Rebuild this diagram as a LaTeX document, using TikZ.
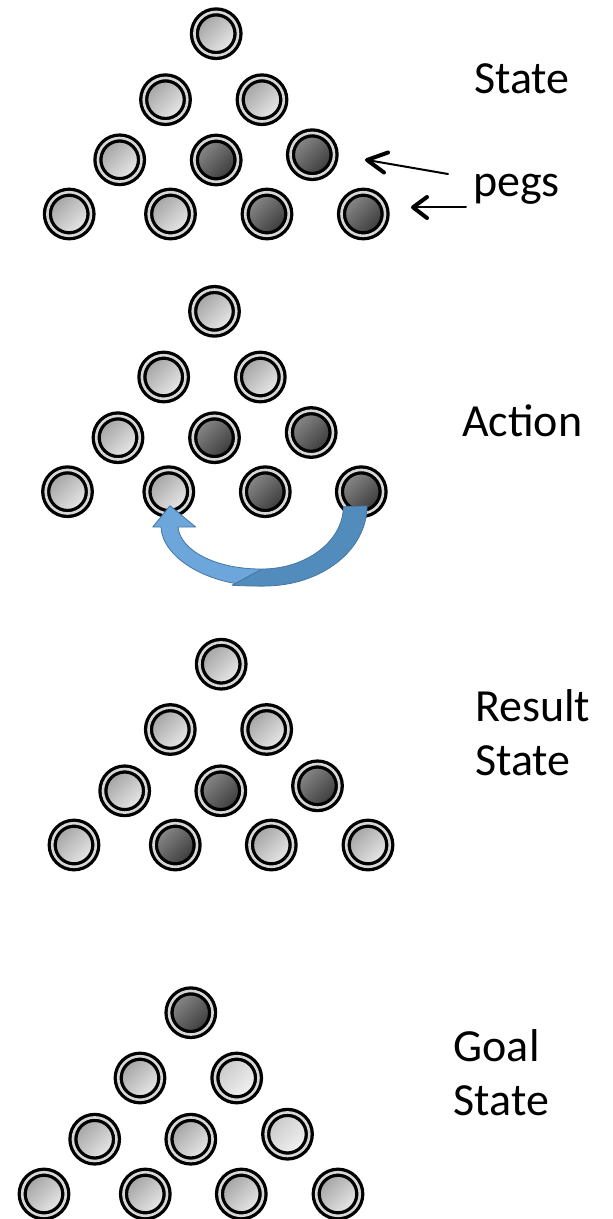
\documentclass[tikz,border=0pt]{standalone}
\usepackage{fontspec}
\setmainfont{Carlito}
\definecolor{ringgray}{RGB}{215,215,215}
\definecolor{lighttop}{RGB}{160,160,160}
\definecolor{lightbot}{RGB}{236,236,236}
\definecolor{darktop}{RGB}{140,140,140}
\definecolor{darkbot}{RGB}{55,55,55}
\definecolor{paletop}{RGB}{200,200,200}
\definecolor{palebot}{RGB}{244,244,244}
\definecolor{jumpfront}{RGB}{108,166,218}
\definecolor{jumpback}{RGB}{82,140,188}
\definecolor{jumpedge}{RGB}{70,118,162}
\begin{document}
\begin{tikzpicture}[x=1pt,y=-1pt,
  peg/.style={circle, minimum size=43.6pt, inner sep=0pt, line width=3.3pt,
    draw=black, double=ringgray, double distance=2.6pt},
  hole/.style={peg, top color=lighttop, bottom color=lightbot, shading angle=45},
  paleh/.style={peg, top color=paletop, bottom color=palebot, shading angle=45},
  full/.style={peg, top color=darktop, bottom color=darkbot, shading angle=45},
  caption/.style={font=\fontsize{46}{53.5}\selectfont, inner sep=0pt,
    anchor=base west, align=left},
  pointer/.style={line width=2pt, line cap=round},
  barb/.style={line width=4pt, line cap=round, line join=round},
  jumpfill/.style={line width=0.8pt, draw=jumpedge, line join=round}
]
\useasboundingbox (0,0) rectangle (613,1219);

% board 1: state
\node[hole] (a1)  at (216.2,33.7) {};
\node[hole] (a2)  at (165.5,99.7) {};
\node[hole] (a3)  at (262.0,99.7) {};
\node[hole] (a4)  at (119.7,159.8) {};
\node[full] (a5)  at (216.2,160.0) {};
\node[full] (a6)  at (312.3,154.7) {};
\node[hole] (a7)  at (69.2,214) {};
\node[hole] (a8)  at (170.5,214) {};
\node[full] (a9)  at (267.0,214) {};
\node[full] (a10) at (363.3,214) {};

% board 2: action
\node[hole] (b1)  at (214.5,311.3) {};
\node[hole] (b2)  at (163.7,377) {};
\node[hole] (b3)  at (260.3,377) {};
\node[hole] (b4)  at (118.0,437.7) {};
\node[full] (b5)  at (214.5,437.7) {};
\node[full] (b6)  at (311.2,432.5) {};
\node[hole] (b7)  at (67.5,491.7) {};
\node[hole] (b8)  at (168.8,491.7) {};
\node[full] (b9)  at (265.3,491.7) {};
\node[full] (b10) at (361.3,491.7) {};

% board 3: result state
\node[hole] (c1)  at (221.2,664.2) {};
\node[hole] (c2)  at (170.3,729.5) {};
\node[hole] (c3)  at (266.7,729.5) {};
\node[hole] (c4)  at (124.7,790.8) {};
\node[full] (c5)  at (220.8,790.8) {};
\node[full] (c6)  at (317.5,785.8) {};
\node[hole] (c7)  at (74.0,845) {};
\node[full] (c8)  at (175.3,845) {};
\node[hole] (c9)  at (271.3,845) {};
\node[hole] (c10) at (368.0,845) {};

% board 4: goal state
\node[full]  (d1)  at (190.8,1012.7) {};
\node[hole]  (d2)  at (140.0,1078) {};
\node[paleh] (d3)  at (236.7,1078) {};
\node[hole]  (d4)  at (94.7,1139.2) {};
\node[hole]  (d5)  at (190.8,1139.2) {};
\node[paleh] (d6)  at (287.5,1134.2) {};
\node[hole]  (d7)  at (44.0,1194) {};
\node[hole]  (d8)  at (145.3,1194) {};
\node[hole]  (d9)  at (241.3,1194) {};
\node[hole]  (d10) at (338.0,1194) {};

% jump arrow: peg b10 leaps over b9 into b8 (front face, then back face)
\fill[jumpfront, jumpfill] (264.3,586) .. controls (205,586) and (162,556) .. (161,527)
  -- (152.7,527) -- (170,505.7) -- (195.7,527) -- (178,527)
  .. controls (180,550) and (215,569) .. (260.7,569) -- cycle;
\fill[jumpback, jumpfill] (232,585.2) .. controls (242,585.9) and (252,586) .. (264.3,586)
  .. controls (321.5,586) and (367,550) .. (367,506)
  -- (343.3,506.7) .. controls (343.3,541) and (306.3,569) .. (262,569) -- cycle;

% captions
\node[caption] (lstate)  at (474,93)   {State};
\node[caption] (lpegs)   at (473,196)  {pegs};
\node[caption] (laction) at (462,436)  {Action};
\node[caption] (lresult) at (475,775.2) {Result\\State};
\node[caption] (lgoal)   at (453.5,1115.2) {Goal\\State};

% pointers to the pegs, with open heads
\coordinate (p1s) at (448,174);
\coordinate (p1e) at (367,160);
\coordinate (p1u) at (388,152.5);
\coordinate (p1d) at (384,172.5);
\coordinate (p2s) at (466,207.3);
\coordinate (p2e) at (413,207.3);
\coordinate (p2u) at (427,197);
\coordinate (p2d) at (427,218);
\draw[pointer] (p1s) -- (p1e);
\draw[barb] (p1u) -- (p1e) -- (p1d);
\draw[pointer] (p2s) -- (p2e);
\draw[barb] (p2u) -- (p2e) -- (p2d);
\end{tikzpicture}
\end{document}
